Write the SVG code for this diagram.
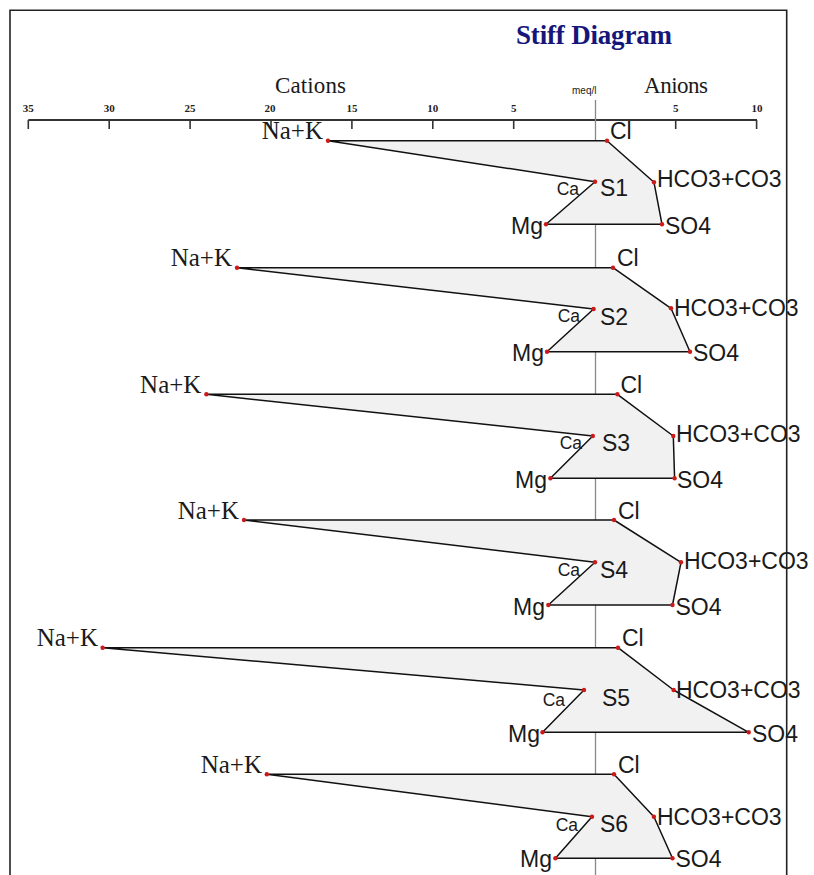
<svg xmlns="http://www.w3.org/2000/svg" width="814" height="875" viewBox="0 0 814 875">
<style>
.frame{fill:none;stroke:#222;stroke-width:1.6}
.axis{stroke:#333;stroke-width:2;fill:none}
.tick{stroke:#333;stroke-width:1.6}
.center{stroke:#888;stroke-width:1.3}
.poly{fill:#f1f1f1;stroke:#111;stroke-width:1.5;stroke-linejoin:round}
.dot{fill:#cc1a1a}
.tl{font-family:"Liberation Serif",serif;font-size:11px;fill:#222;text-anchor:middle;font-weight:bold}
.hdr{font-family:"Liberation Serif",serif;font-size:23px;fill:#1a1a1a}
.title{font-family:"Liberation Serif",serif;font-size:27px;font-weight:bold;fill:#16167a}
.unit{font-family:"Liberation Sans",Arial,sans-serif;font-size:10px;fill:#1a1a1a}
.nak{font-family:"Liberation Serif",serif;font-size:25px;fill:#1a1a1a;text-anchor:end}
.lb{font-family:"Liberation Sans",Arial,sans-serif;font-size:23px;fill:#1a1a1a}
.lbe{font-family:"Liberation Sans",Arial,sans-serif;font-size:23px;fill:#1a1a1a;text-anchor:end}
.ca{font-family:"Liberation Sans",Arial,sans-serif;font-size:17.5px;fill:#1a1a1a;text-anchor:end}
</style>
<rect x="0" y="0" width="814" height="875" fill="#ffffff"/>
<text class="title" x="516" y="44" textLength="156">Stiff Diagram</text>
<g id="axis">
<text class="hdr" x="275" y="93" textLength="71">Cations</text>
<text class="hdr" x="644" y="93" textLength="64">Anions</text>
<text class="unit" x="572" y="94">meq/l</text>
<line class="axis" x1="28.3" y1="120" x2="757" y2="120"/>
<g class="tick">
<line x1="28.3" y1="120" x2="28.3" y2="129"/>
<line x1="109.2" y1="120" x2="109.2" y2="129"/>
<line x1="190.1" y1="120" x2="190.1" y2="129"/>
<line x1="271" y1="120" x2="271" y2="129"/>
<line x1="351.9" y1="120" x2="351.9" y2="129"/>
<line x1="432.8" y1="120" x2="432.8" y2="129"/>
<line x1="513.7" y1="120" x2="513.7" y2="129"/>
<line x1="675.7" y1="120" x2="675.7" y2="129"/>
<line x1="756.6" y1="120" x2="756.6" y2="129"/>
</g>
<text class="tl" x="28.3" y="112">35</text>
<text class="tl" x="109.2" y="112">30</text>
<text class="tl" x="190.1" y="112">25</text>
<text class="tl" x="270" y="112">20</text>
<text class="tl" x="351.9" y="112">15</text>
<text class="tl" x="432.8" y="112">10</text>
<text class="tl" x="513.7" y="112">5</text>
<text class="tl" x="675.7" y="112">5</text>
<text class="tl" x="757" y="112">10</text>
</g>
<line id="zero-line" class="center" x1="595.5" y1="100" x2="595.5" y2="875"/>
<g id="S1">
<polygon class="poly" points="328,140.7 607,140.7 654,182.3 662,224.3 546,224.3 595,181.7"/>
<g class="dot"><circle cx="328" cy="140.7" r="2.2"/><circle cx="607" cy="140.7" r="2.2"/><circle cx="654" cy="182.3" r="2.2"/><circle cx="662" cy="224.3" r="2.2"/><circle cx="546" cy="224.3" r="2.2"/><circle cx="595" cy="181.7" r="2.2"/></g>
<text class="nak" x="323" y="139">Na+K</text>
<text class="lb" x="610" y="139">Cl</text>
<text class="lb" x="657" y="187">HCO3+CO3</text>
<text class="lb" x="665" y="233.5">SO4</text>
<text class="lbe" x="543" y="233.5">Mg</text>
<text class="ca" x="579" y="194.5">Ca</text>
<text class="lb" x="600" y="196">S1</text>
</g>
<g id="S2">
<polygon class="poly" points="237,267.7 613,267.7 671,308.3 690,351.7 547,351.7 593.6,309"/>
<g class="dot"><circle cx="237" cy="267.7" r="2.2"/><circle cx="613" cy="267.7" r="2.2"/><circle cx="671" cy="308.3" r="2.2"/><circle cx="690" cy="351.7" r="2.2"/><circle cx="547" cy="351.7" r="2.2"/><circle cx="593.6" cy="309" r="2.2"/></g>
<text class="nak" x="232" y="266.2">Na+K</text>
<text class="lb" x="617" y="266.2">Cl</text>
<text class="lb" x="674" y="316">HCO3+CO3</text>
<text class="lb" x="693" y="361">SO4</text>
<text class="lbe" x="544" y="361">Mg</text>
<text class="ca" x="580" y="322">Ca</text>
<text class="lb" x="600" y="325">S2</text>
</g>
<g id="S3">
<polygon class="poly" points="206.4,394.3 617.4,394.3 673.3,436 674.6,478.3 550.4,478.3 592.8,436"/>
<g class="dot"><circle cx="206.4" cy="394.3" r="2.2"/><circle cx="617.4" cy="394.3" r="2.2"/><circle cx="673.3" cy="436" r="2.2"/><circle cx="674.6" cy="478.3" r="2.2"/><circle cx="550.4" cy="478.3" r="2.2"/><circle cx="592.8" cy="436" r="2.2"/></g>
<text class="nak" x="201.4" y="392.8">Na+K</text>
<text class="lb" x="620.5" y="392.8">Cl</text>
<text class="lb" x="676" y="442">HCO3+CO3</text>
<text class="lb" x="677" y="487.5">SO4</text>
<text class="lbe" x="547" y="487.5">Mg</text>
<text class="ca" x="582" y="448.5">Ca</text>
<text class="lb" x="602" y="451">S3</text>
</g>
<g id="S4">
<polygon class="poly" points="244,520 614,520 681,562.3 672.5,605 548.3,605 595,562.3"/>
<g class="dot"><circle cx="244" cy="520" r="2.2"/><circle cx="614" cy="520" r="2.2"/><circle cx="681" cy="562.3" r="2.2"/><circle cx="672.5" cy="605" r="2.2"/><circle cx="548.3" cy="605" r="2.2"/><circle cx="595" cy="562.3" r="2.2"/></g>
<text class="nak" x="239" y="518.5">Na+K</text>
<text class="lb" x="618" y="518.5">Cl</text>
<text class="lb" x="684" y="569">HCO3+CO3</text>
<text class="lb" x="675.5" y="614.5">SO4</text>
<text class="lbe" x="545" y="614.5">Mg</text>
<text class="ca" x="580" y="575.5">Ca</text>
<text class="lb" x="600" y="578">S4</text>
</g>
<g id="S5">
<polygon class="poly" points="102.6,647.7 618,647.7 673.6,690 748.7,732.3 542.5,732.3 584,690"/>
<g class="dot"><circle cx="102.6" cy="647.7" r="2.2"/><circle cx="618" cy="647.7" r="2.2"/><circle cx="673.6" cy="690" r="2.2"/><circle cx="748.7" cy="732.3" r="2.2"/><circle cx="542.5" cy="732.3" r="2.2"/><circle cx="584" cy="690" r="2.2"/></g>
<text class="nak" x="98" y="646.2">Na+K</text>
<text class="lb" x="622" y="646.2">Cl</text>
<text class="lb" x="676" y="698">HCO3+CO3</text>
<text class="lb" x="752" y="742">SO4</text>
<text class="lbe" x="540" y="742">Mg</text>
<text class="ca" x="565" y="706">Ca</text>
<text class="lb" x="602" y="706">S5</text>
</g>
<g id="S6">
<polygon class="poly" points="266.8,774.3 614,774.3 653.9,816.7 672.5,858.3 555.4,858.3 592,816.7"/>
<g class="dot"><circle cx="266.8" cy="774.3" r="2.2"/><circle cx="614" cy="774.3" r="2.2"/><circle cx="653.9" cy="816.7" r="2.2"/><circle cx="672.5" cy="858.3" r="2.2"/><circle cx="555.4" cy="858.3" r="2.2"/><circle cx="592" cy="816.7" r="2.2"/></g>
<text class="nak" x="262" y="772.8">Na+K</text>
<text class="lb" x="618" y="772.8">Cl</text>
<text class="lb" x="657" y="825">HCO3+CO3</text>
<text class="lb" x="675.5" y="867">SO4</text>
<text class="lbe" x="552" y="867">Mg</text>
<text class="ca" x="578" y="831">Ca</text>
<text class="lb" x="600" y="832">S6</text>
</g>
<g id="connectors"></g>
<path class="frame" d="M10,875 L10,10.3 L786.7,10.3 L786.7,875"/>
</svg>
